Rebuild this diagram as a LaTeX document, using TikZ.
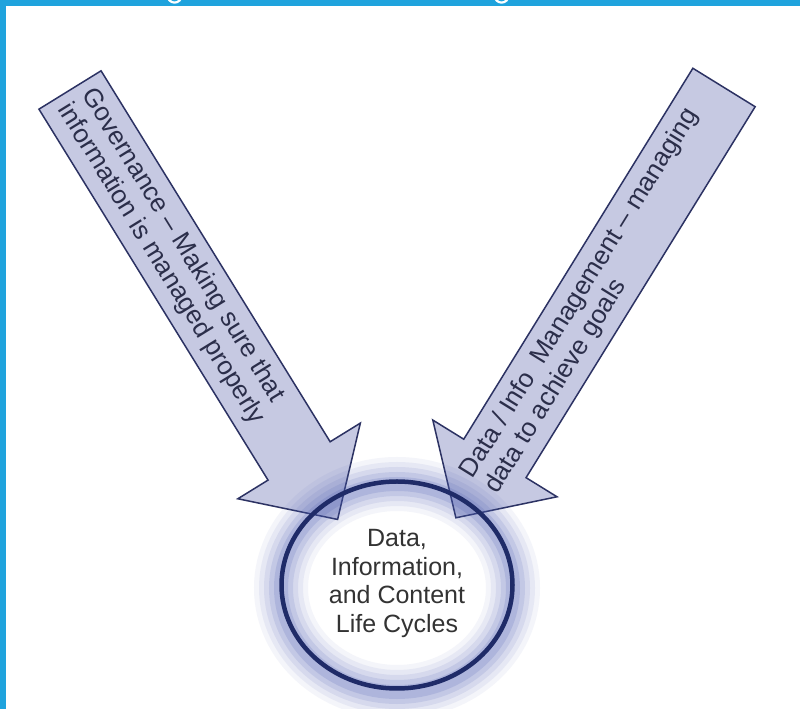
\documentclass[tikz,border=0pt]{standalone}
\usepackage{fontspec}
\setmainfont{Liberation Sans}
\usetikzlibrary{shapes.geometric}
\definecolor{band}{HTML}{1FA3DD}
\definecolor{arrowfill}{HTML}{C6C9E2}
\definecolor{arrowline}{HTML}{2C3263}
\definecolor{ringcol}{HTML}{1F2B68}
\definecolor{glowcol}{HTML}{4A5BB0}
\definecolor{txt}{HTML}{2B2E4A}
\definecolor{ctxt}{HTML}{333333}
\begin{document}
\begin{tikzpicture}[x=1pt,y=1pt,
  arrowbody/.style={fill=arrowfill, draw=arrowline, line width=1.5pt, line join=miter},
  arrowtext/.style={text=txt, font=\fontsize{26}{28.5}\selectfont, align=left, inner sep=0pt},
  ringtext/.style={text=ctxt, font=\fontsize{25}{28.5}\selectfont, align=center, inner sep=0pt},
  glow/.style={glowcol, draw opacity=#1}]
\useasboundingbox (0,0) rectangle (800,709);
\fill[white] (0,0) rectangle (800,709);
\fill[band] (0,703) rectangle (800,709);
\fill[band] (0,0) rectangle (6,709);
\draw[white, line width=2.2pt] (168,711) arc[start angle=200, end angle=340, radius=7];
\draw[white, line width=2.2pt] (495,711) arc[start angle=200, end angle=340, radius=7];
% left arrow
\begin{scope}[shift={(70,619)}, rotate=-58.3]
  \draw[arrowbody] (0,36.5) -- (436,36.5) -- (436,72) -- (506,2) -- (436,-72) -- (436,-36.5) -- (0,-36.5) -- cycle;
  \node[arrowtext, anchor=west, transform shape] (govtext) at (10,0)
    {Governance – Making sure that\\information is managed properly};
\end{scope}
% right arrow
\begin{scope}[shift={(724,621.5)}, rotate=-121.7]
  \draw[arrowbody] (0,-36.6) -- (436,-36.6) -- (436,-73) -- (507,-2) -- (436,73) -- (436,36.6) -- (0,36.6) -- cycle;
  \node[arrowtext, anchor=west, rotate=180, transform shape] (mgmttext) at (466,0)
    {Data / Info\ \ Management – managing\\data to achieve goals};
\end{scope}
% glow and ring
\foreach \w/\o in {54/0.06, 44/0.08, 34/0.10, 24/0.13, 14/0.17}
  \draw[glow=\o, line width=\w pt] (397,121) ellipse[x radius=116, y radius=104];
\node[ellipse, draw=ringcol, line width=4.5pt, minimum width=231pt, minimum height=207pt, inner sep=0pt] (ring) at (397,124) {};
\node[ringtext] (cyctext) at (397,125.5) {Data,\\Information,\\and Content\\Life Cycles};
\end{tikzpicture}
\end{document}
